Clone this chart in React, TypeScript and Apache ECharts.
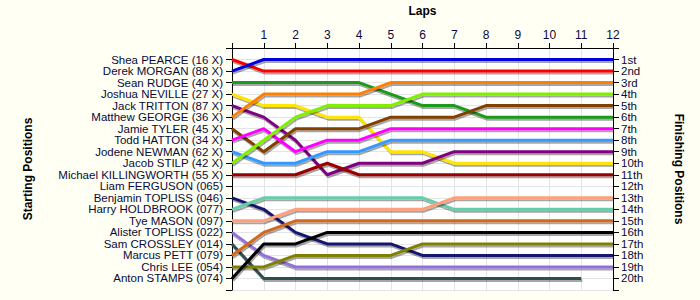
import React, { useEffect, useRef } from "react";
import * as echarts from "echarts";

const laps = [0, 1, 2, 3, 4, 5, 6, 7, 8, 9, 10, 11, 12];
const lapLabels = ["", "1", "2", "3", "4", "5", "6", "7", "8", "9", "10", "11", "12"];

const starters = [
  "Shea PEARCE (16 X)",
  "Derek MORGAN (88 X)",
  "Sean RUDGE (40 X)",
  "Joshua NEVILLE (27 X)",
  "Jack TRITTON (87 X)",
  "Matthew GEORGE (36 X)",
  "Jamie TYLER (45 X)",
  "Todd HATTON (34 X)",
  "Jodene NEWMAN (62 X)",
  "Jacob STILP (42 X)",
  "Michael KILLINGWORTH (55 X)",
  "Liam FERGUSON (065)",
  "Benjamin TOPLISS (046)",
  "Harry HOLDBROOK (077)",
  "Tye MASON (097)",
  "Alister TOPLISS (022)",
  "Sam CROSSLEY (014)",
  "Marcus PETT (079)",
  "Chris LEE (054)",
  "Anton STAMPS (074)",
];

const finishLabels = [
  "1st", "2nd", "3rd", "4th", "5th", "6th", "7th", "8th", "9th", "10th",
  "11th", "12th", "13th", "14th", "15th", "16th", "17th", "18th", "19th", "20th",
];

// positions per lap (lap 0 .. lap 12)
const sheaPearce = [1, 2, 2, 2, 2, 2, 2, 2, 2, 2, 2, 2, 2];
const derekMorgan = [2, 1, 1, 1, 1, 1, 1, 1, 1, 1, 1, 1, 1];
const seanRudge = [3, 3, 3, 3, 3, 4, 5, 5, 6, 6, 6, 6, 6];
const joshuaNeville = [4, 5, 5, 6, 6, 9, 9, 10, 10, 10, 10, 10, 10];
const jackTritton = [5, 6, 8, 11, 10, 10, 10, 9, 9, 9, 9, 9, 9];
const matthewGeorge = [6, 4, 4, 4, 4, 3, 3, 3, 3, 3, 3, 3, 3];
const jamieTyler = [7, 9, 7, 7, 7, 6, 6, 6, 5, 5, 5, 5, 5];
const toddHatton = [8, 7, 9, 8, 8, 7, 7, 7, 7, 7, 7, 7, 7];
const jodeneNewman = [9, 10, 10, 9, 9, 8, 8, 8, 8, 8, 8, 8, 8];
const jacobStilp = [10, 8, 6, 5, 5, 5, 4, 4, 4, 4, 4, 4, 4];
const michaelKillingworth = [11, 11, 11, 10, 11, 11, 11, 11, 11, 11, 11, 11, 11];
const liamFerguson = [12, 12, 12, 12, 12, 12, 12, 12, 12, 12, 12, 12, 12];
const benjaminTopliss = [13, 14, 16, 17, 17, 17, 18, 18, 18, 18, 18, 18, 18];
const harryHoldbrook = [14, 13, 13, 13, 13, 13, 13, 14, 14, 14, 14, 14, 14];
const tyeMason = [15, 15, 14, 14, 14, 14, 14, 13, 13, 13, 13, 13, 13];
const alisterTopliss = [16, 18, 19, 19, 19, 19, 19, 19, 19, 19, 19, 19, 19];
const samCrossley = [17, 20, 20, 20, 20, 20, 20, 20, 20, 20, 20, 20];
const marcusPett = [18, 16, 15, 15, 15, 15, 15, 15, 15, 15, 15, 15, 15];
const chrisLee = [19, 19, 18, 18, 18, 18, 17, 17, 17, 17, 17, 17, 17];
const antonStamps = [20, 17, 17, 16, 16, 16, 16, 16, 16, 16, 16, 16, 16];

const positions = [
  sheaPearce, derekMorgan, seanRudge, joshuaNeville, jackTritton,
  matthewGeorge, jamieTyler, toddHatton, jodeneNewman, jacobStilp,
  michaelKillingworth, liamFerguson, benjaminTopliss, harryHoldbrook, tyeMason,
  alisterTopliss, samCrossley, marcusPett, chrisLee, antonStamps,
];

const colors = [
  "#ff0000", "#0000dd", "#1a9a1a", "#ffe600", "#800080",
  "#ff8000", "#804000", "#ff00ff", "#3399ff", "#80f000",
  "#990000", "#daa520", "#191970", "#66cdaa", "#ffa07a",
  "#9370db", "#2f4f4f", "#d2691e", "#808000", "#000000",
];

const textColor = "#0a0a3c";
const font = "'Liberation Sans', Arial, sans-serif";

export default function App() {
  const ref = useRef<HTMLDivElement>(null);
  useEffect(() => {
    document.body.style.margin = "0";
    const chart = echarts.init(ref.current!, null, { renderer: "svg" });
    const series = positions.map((pos, i) => ({
      type: "line",
      name: starters[i],
      xAxisIndex: 0,
      yAxisIndex: 0,
      showSymbol: false,
      symbol: "none",
      data: pos.map((p, k) => [laps[k], p]),
      lineStyle: {
        color: colors[i],
        width: 3,
        shadowColor: "rgba(0,0,0,0.35)",
        shadowOffsetX: 1,
        shadowOffsetY: 2,
        shadowBlur: 1,
      },
      itemStyle: { color: colors[i] },
      z: 3,
      silent: true,
    }));
    chart.setOption({
      animation: false,
      backgroundColor: "#fffff4",
      textStyle: { fontFamily: font },
      grid: {
        left: 232,
        right: 87,
        top: 47,
        bottom: 10,
        show: true,
        backgroundColor: "#ffffff",
        borderWidth: 0,
      },
      xAxis: {
        type: "value",
        position: "top",
        min: 0,
        max: 12,
        interval: 1,
        name: "Laps",
        nameLocation: "middle",
        nameGap: 31,
        nameTextStyle: { color: "#000", fontWeight: "bold", fontSize: 12, fontFamily: font },
        axisLine: { show: true, lineStyle: { color: "#000", width: 1 } },
        axisTick: { show: true, length: 5, lineStyle: { color: "#000" } },
        axisLabel: {
          color: textColor,
          fontSize: 12,
          margin: 7,
          fontFamily: font,
          formatter: (v: number) => lapLabels[v] ?? "",
        },
        splitLine: { show: true, lineStyle: { color: "#e4e4e4", width: 1 } },
      },
      yAxis: [
        {
          type: "value",
          position: "left",
          inverse: true,
          min: 0,
          max: 21,
          interval: 1,
          name: "Starting Positions",
          nameLocation: "middle",
          nameRotate: 90,
          nameGap: 198,
          nameTextStyle: { color: "#000", fontWeight: "bold", fontSize: 12, fontFamily: font },
          axisLine: { show: true, lineStyle: { color: "#000", width: 1 } },
          axisTick: { show: true, length: 6, lineStyle: { color: "#000" } },
          axisLabel: {
            color: textColor,
            fontSize: 11.5,
            lineHeight: 11,
            margin: 9,
            fontFamily: font,
            formatter: (v: number) => starters[v - 1] ?? "",
          },
          splitLine: { show: true, lineStyle: { color: "#e4e4e4", width: 1 } },
        },
        {
          type: "value",
          position: "right",
          inverse: true,
          min: 0,
          max: 21,
          interval: 1,
          name: "Finishing Positions",
          nameLocation: "middle",
          nameRotate: -90,
          nameGap: 60,
          nameTextStyle: { color: "#000", fontWeight: "bold", fontSize: 12, fontFamily: font },
          axisLine: { show: true, lineStyle: { color: "#000", width: 1 } },
          axisTick: { show: true, length: 6, lineStyle: { color: "#000" } },
          axisLabel: {
            color: textColor,
            fontSize: 11.5,
            lineHeight: 11,
            margin: 8,
            fontFamily: font,
            formatter: (v: number) => finishLabels[v - 1] ?? "",
          },
          splitLine: { show: false },
        },
      ],
      series,
    });
    return () => chart.dispose();
  }, []);
  return <div ref={ref} style={{ width: 700, height: 300 }} />;
}
